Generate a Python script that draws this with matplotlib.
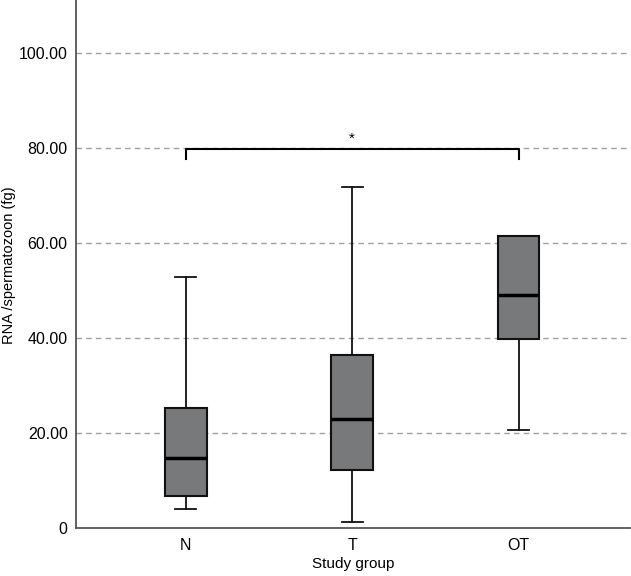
import matplotlib
matplotlib.use('Agg')
import matplotlib.pyplot as plt

plt.rcParams['font.family'] = ['Liberation Sans', 'DejaVu Sans']

groups = ['N', 'T', 'OT']
whisker_low = [4.1, 1.3, 20.6]
q1 = [6.8, 12.2, 39.9]
median = [14.8, 22.9, 49.1]
q3 = [25.3, 36.4, 61.5]
whisker_high = [52.9, 71.9, 61.5]
yticks = [0, 20, 40, 60, 80, 100]
ytick_labels = ['0', '20.00', '40.00', '60.00', '80.00', '100.00']
sig_pair = (0, 2)
sig_y = 79.8
sig_text = '*'

stats = []
for i, g in enumerate(groups):
    stats.append({'label': g, 'whislo': whisker_low[i], 'q1': q1[i], 'med': median[i],
                  'q3': q3[i], 'whishi': whisker_high[i], 'fliers': []})

fig = plt.figure(figsize=(6.31, 5.76), dpi=100)
ax = fig.add_axes([76 / 631, 48 / 576, 554 / 631, 528 / 576])

pos = [1, 2, 3]
ax.bxp(stats, positions=pos, widths=0.25, patch_artist=True, showfliers=False,
       boxprops=dict(facecolor='#77797b', edgecolor='#111111', linewidth=1.5),
       medianprops=dict(color='black', linewidth=2.5),
       whiskerprops=dict(color='#111111', linewidth=1.3),
       capprops=dict(color='#111111', linewidth=1.3),
       capwidths=0.125, zorder=3)

for y in yticks[1:]:
    ax.axhline(y, color='#a0a0a0', linestyle=(0, (4, 3)), linewidth=1, zorder=1)

# significance bracket
x1, x2 = pos[sig_pair[0]], pos[sig_pair[1]]
ax.plot([x1, x1, x2, x2], [sig_y - 2, sig_y, sig_y, sig_y - 2], color='black', linewidth=1.5, zorder=4)
ax.text((x1 + x2) / 2, sig_y + 0.8, sig_text, ha='center', va='bottom', fontsize=11)

ax.set_xlim(0.34, 3.67)
ax.set_ylim(0, 111.2)
ax.set_yticks(yticks)
ax.set_yticklabels(ytick_labels)
ax.set_xticks(pos)
ax.set_xticklabels(groups)
ax.tick_params(axis='both', length=0, labelsize=11.5, pad=6)
ax.tick_params(axis='x', pad=7)

for s in ['top', 'right']:
    ax.spines[s].set_visible(False)
for s in ['left', 'bottom']:
    ax.spines[s].set_color('#555555')
    ax.spines[s].set_linewidth(1.3)

fig.text(9 / 631, 0.54, 'RNA /spermatozoon (fg)', rotation=90, ha='center', va='center', fontsize=10.5)
ax.set_xlabel('Study group', fontsize=11, labelpad=3)

fig.savefig('out.png', dpi=100)
